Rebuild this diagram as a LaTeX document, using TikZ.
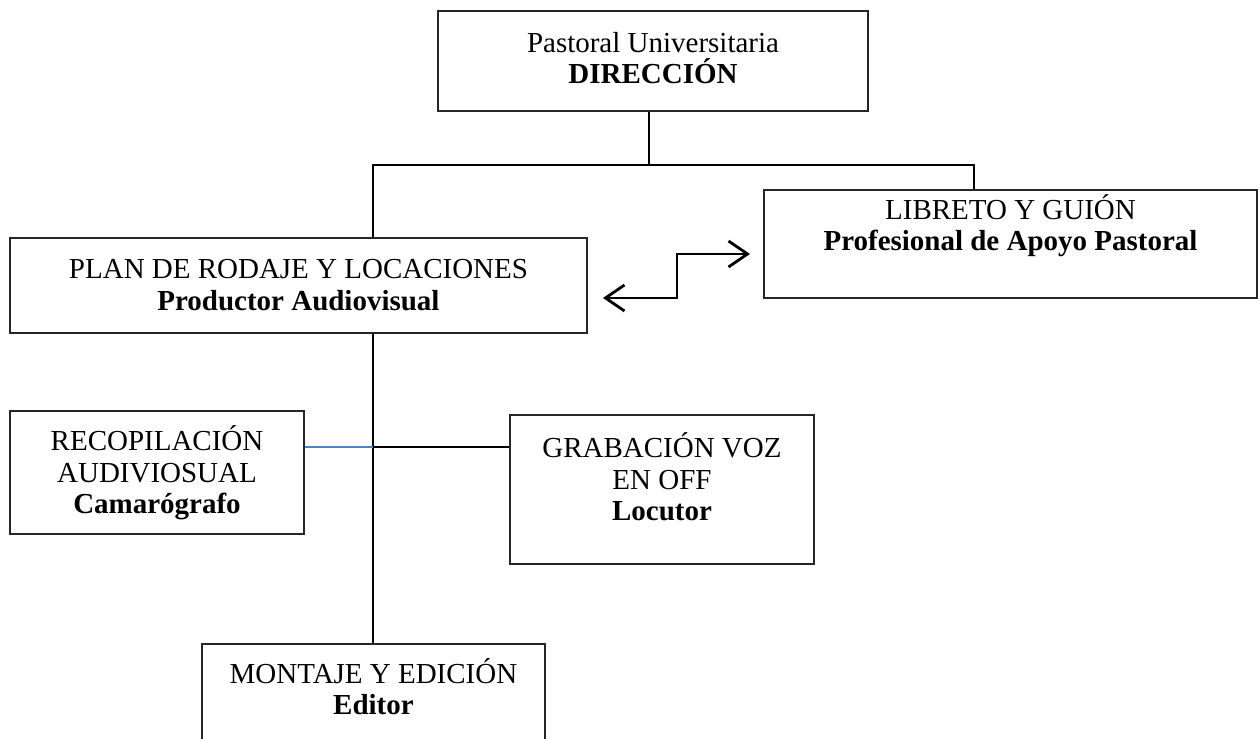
\documentclass[tikz,border=0pt]{standalone}
\usepackage{fontspec}
\setmainfont{Liberation Serif}
\usetikzlibrary{arrows.meta}
\definecolor{lineblue}{RGB}{79,129,189}

\begin{document}
\begin{tikzpicture}[x=0.02cm,y=-0.02cm,
		box/.style={rectangle,draw=black!85,line width=0.8pt,inner sep=0pt},
		lbl/.style={align=center,inner sep=0pt,font=\fontsize{16.5}{17.8}\selectfont},
		link/.style={draw=black,line width=1.4pt}]
		\clip (0,0) rectangle (1259,739);
		% boxes
		\node[box,minimum width=8.6cm,minimum height=2cm] (dir) at (653,61) {};
		\node[box,minimum width=9.86cm,minimum height=2.16cm] (lib) at (1010.5,244) {};
		\node[box,minimum width=11.54cm,minimum height=1.9cm] (plan) at (298.5,285.5) {};
		\node[box,minimum width=5.88cm,minimum height=2.46cm] (recop) at (157,472.5) {};
		\node[box,minimum width=6.08cm,minimum height=2.98cm] (grab) at (662,489.5) {};
		\node[box,minimum width=6.86cm,minimum height=2.4cm] (mont) at (373.5,704) {};
		% texts
		\node[lbl] (dir-t) at (653,58) {Pastoral Universitaria\\\textbf{DIRECCIÓN}};
		\node[lbl] (lib-t) at (1010.5,226) {LIBRETO Y GUIÓN\\\textbf{Profesional de Apoyo Pastoral}};
		\node[lbl] (plan-t) at (298.5,285) {PLAN DE RODAJE Y LOCACIONES\\\textbf{Productor Audiovisual}};
		\node[lbl] (recop-t) at (157,473) {RECOPILACIÓN\\AUDIVIOSUAL\\\textbf{Camarógrafo}};
		\node[lbl] (grab-t) at (662,477) {GRABACIÓN VOZ\\EN OFF\\\textbf{Locutor}};
		\node[lbl] (mont-t) at (373.5,687) {MONTAJE Y EDICIÓN\\\textbf{Editor}};
		% connectors
		\coordinate (bus) at (649,165);
		\coordinate (busL) at (373,165);
		\coordinate (busR) at (974,165);
		\coordinate (mid) at (373,447);
		\coordinate (arrL) at (603,298);
		\coordinate (arrR) at (750,254);
		\draw[link] (bus |- dir.south) -- (bus);
		\draw[link] (busL |- plan.north) -- (busL) -- (busR) -- (busR |- lib.north);
		\draw[link] (busL |- plan.south) -- (busL |- mont.north);
		\draw[line width=1pt,draw=lineblue] (recop.east |- mid) -- (mid);
		\draw[link] (mid) -- (grab.west |- mid);
		\draw[link,line width=1.6pt,{Straight Barb[length=0.38cm,width=0.52cm]}-{Straight Barb[length=0.38cm,width=0.52cm]}]
			(arrL) -- ++(74,0) |- (arrR);
	\end{tikzpicture}
\end{document}
